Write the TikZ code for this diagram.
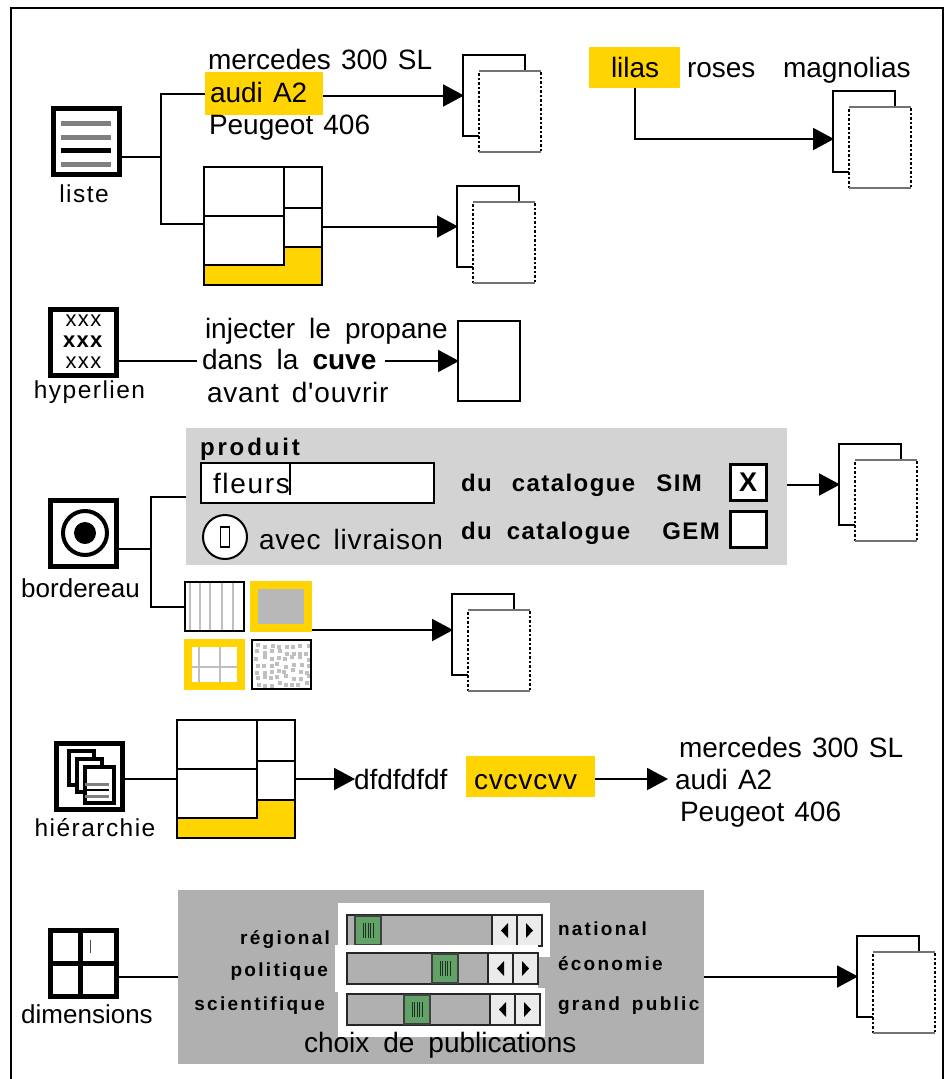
\documentclass[tikz,border=0pt]{standalone}
\usepackage{fontspec}
\setmainfont[WordSpace=1.8]{Liberation Sans}
\newfontfamily\carfamily[WordSpace=1.3]{Liberation Sans}
\newfontfamily\spreadfamily[LetterSpace=3,WordSpace=1.5]{Liberation Sans}
\newfontfamily\lblfamily[LetterSpace=6]{Liberation Sans}
\newfontfamily\catfamily[LetterSpace=6]{Liberation Sans}
\newfontfamily\tagfamily[LetterSpace=12,WordSpace=1.6]{Liberation Sans}
\usepackage{xcolor}
\usetikzlibrary{arrows.meta, positioning}
\definecolor{hilite}{HTML}{FFD400}
\definecolor{formpanel}{HTML}{D3D3D3}
\definecolor{dimpanelgray}{HTML}{B0B0B0}
\definecolor{thumbgreen}{HTML}{62A268}
\newcommand{\bigfont}{\fontsize{28}{32}\selectfont}
\newcommand{\carfont}{\carfamily\fontsize{28}{32}\selectfont}
\newcommand{\spreadfont}{\spreadfamily\fontsize{28}{32}\selectfont}
\newcommand{\lblfont}{\lblfamily\fontsize{24.5}{28}\selectfont}
\newcommand{\lblplainfont}{\fontsize{26}{30}\selectfont}
\newcommand{\catfont}{\catfamily\bfseries\fontsize{24}{28}\selectfont}
\newcommand{\tagfont}{\tagfamily\bfseries\fontsize{19}{22}\selectfont}

\begin{document}
\begin{tikzpicture}[
    x=1pt, y=-1pt,
    every node/.style={outer sep=0pt},
    node distance=6pt,
    conn/.style={line width=2pt},
    arrow/.style={-{Triangle[length=21pt, width=22pt]}, line width=2pt, shorten >=-1pt},
    txt/.style={anchor=base west, inner sep=0pt, font=\bigfont},
    cartxt/.style={anchor=base west, inner sep=0pt, font=\carfont},
    spreadtxt/.style={anchor=base west, inner sep=0pt, font=\spreadfont},
    hibox/.style={fill=hilite, anchor=north west, inner sep=0pt},
    iconbox/.style={draw, line width=5pt, minimum size=66pt, inner sep=0pt, fill=white},
    lbl/.style={inner sep=0pt, font=\lblfont},
    lblplain/.style={inner sep=0pt, font=\lblplainfont},
    backpage/.style={draw, line width=2.5pt, anchor=north west, minimum width=62pt, minimum height=81pt, inner sep=0pt},
    frontpage/.style={draw, fill=white, line width=2.5pt, dash pattern=on 2.5pt off 2pt, anchor=north west,
                      minimum width=62pt, minimum height=81pt, inner sep=0pt},
    pageedge/.style={line width=2pt, draw=black!55},
    mapbox/.style={draw, fill=hilite, line width=2pt, anchor=north west, minimum width=118pt, minimum height=118pt, inner sep=0pt},
    mapcell/.style={draw, fill=white, line width=2pt, anchor=north west, inner sep=0pt},
    swatch/.style={draw, line width=2.5pt, anchor=north west, minimum width=59pt, minimum height=49pt, inner sep=0pt},
    ring/.style={draw=hilite, line width=8pt, anchor=north west, minimum width=54pt, minimum height=43pt, inner sep=0pt},
    faint/.style={line width=2pt, draw=black!25},
    checkbox/.style={draw, line width=3pt, fill=white, minimum size=36pt, inner sep=0pt},
    bar/.style={draw=black!85, line width=2pt, fill=dimpanelgray},
    thumb/.style={draw=black!75, line width=1.5pt, fill=thumbgreen},
    btn/.style={draw=black!85, line width=1.5pt, fill=black!8}
]
  \fill[white] (0,0) rectangle (946,1079);
  \useasboundingbox (0,0) rectangle (946,1079);
  \draw[line width=2.5pt] (11,1079) -- (11,8) -- (943,8) -- (943,1079);

  \foreach \nm/\x/\y in {liste/463/55, cartes/457/186, lilas/833/91, form/839/444, swatches/452/594, dims/857/936} {
    \node[backpage] (\nm back) at (\x,\y) {};
    \node[frontpage] (\nm front) at (\x+16,\y+16) {};
    \draw[pageedge] (\nm front.north west) -- (\nm front.north east);
    \draw[pageedge] (\nm front.south west) -- (\nm front.south east);
  }

  \foreach \nm/\x/\y in {listemap/204/167, hiermap/177/720} {
    \node[mapbox] (\nm) at (\x,\y) {};
    \node[mapcell, minimum width=80pt, minimum height=49pt] (\nm a) at (\x,\y) {};
    \node[mapcell, minimum width=80pt, minimum height=49pt] (\nm b) at (\x,\y+49) {};
    \node[mapcell, minimum width=38pt, minimum height=41pt] (\nm c) at (\x+80,\y) {};
    \node[mapcell, minimum width=38pt, minimum height=39pt] (\nm d) at (\x+80,\y+41) {};
  }

  \node[iconbox] (listeicon) at (86.5,141) {};
  \foreach \yy/\cc in {123/black!50, 137/black!50, 150/black, 164/black!50} {
    \draw[line width=5pt, \cc] (61,\yy) -- (111,\yy);
  }
  \node[lbl, below=11pt of listeicon, xshift=-2.5pt] (listelabel) {liste};
  \node[cartxt] (merc) at (208,69) {mercedes 300 SL};
  \node[hibox, minimum width=118pt, minimum height=43pt] (audibox) at (205,72) {};
  \node[cartxt] (audi) at (210,102) {audi A2};
  \node[cartxt] (peug) at (209,134) {Peugeot 406};
  \coordinate (listejoin) at (161,157);
  \coordinate (listebot) at (161,224);
  \draw[conn] (listeicon.east |- listejoin) -- (listejoin);
  \draw[conn] (audibox.west) -| (listebot) -- (listebot -| listemap.west);
  \draw[arrow] (audibox.east |- listeback.west) -- (listeback.west);
  \draw[arrow] (listemap.east |- cartesback.west) -- (cartesback.west);

  \node[hibox, minimum width=91pt, minimum height=41pt] (lilasbox) at (589,47) {};
  \node[txt] (lilastext) at (611,77) {lilas};
  \node[txt] (roses) at (687,77) {roses};
  \node[txt] (magn) at (783,77) {magnolias};
  \coordinate (lilastip) at (833,139);
  \draw[arrow] (lilasbox.south) |- (lilastip);

  \node[iconbox, font=\lblfamily\fontsize{22}{21}\selectfont, align=center] (hypericon) at (83.5,342) {xxx\\\textbf{xxx}\\xxx};
  \node[lbl, below=6pt of hypericon, xshift=6pt] (hyperlabel) {hyperlien};
  \node[txt] (inject) at (205,338) {injecter le propane};
  \node[txt] (dans) at (202,369) {dans la \textbf{cuve}};
  \node[spreadtxt] (avant) at (207,402) {avant d'ouvrir};
  \node[draw, line width=2.5pt, minimum width=62pt, minimum height=80pt, inner sep=0pt, anchor=north west] (hyperpage) at (458,321) {};
  \draw[conn] (hyperpage.west -| hypericon.east) -- ([xshift=-5pt]hyperpage.west -| dans.west);
  \draw[arrow] ([xshift=9pt]hyperpage.west -| dans.east) -- (hyperpage.west);

  \node[fill=formpanel, anchor=north west, minimum width=601pt, minimum height=137pt, inner sep=0pt] (bordpanel) at (186,428) {};
  \node[txt, font=\tagfamily\bfseries\fontsize{24}{28}\selectfont] (produit) at (200,455) {produit};
  \node[draw, fill=white, line width=2.5pt, anchor=north west, minimum width=233pt, minimum height=40pt, inner sep=0pt] (fleursfield) at (201,463) {};
  \node[txt, font=\lblfamily\fontsize{28}{32}\selectfont] (fleurs) at (213,493) {fleurs};
  \draw[line width=1.5pt] (fleursfield.north west -| fleurs.east) -- ([yshift=8pt]fleursfield.south west -| fleurs.east);
  \node[draw, fill=white, circle, line width=2pt, minimum size=44pt, inner sep=0pt] (radio) at (225,537) {};
  \node[draw, line width=1.5pt, minimum width=9pt, minimum height=20pt, inner sep=0pt] (radiomark) at (radio) {};
  \node[spreadtxt] (livraison) at (259,549) {avec livraison};
  \node[txt, font=\catfont] (catsim) at (461,491) {du\hspace{20pt}catalogue\hspace{21pt}SIM};
  \node[txt, font=\catfont] (catgem) at (461,539) {du\hspace{15pt}catalogue\hspace{32pt}GEM};
  \node[checkbox, font=\bfseries\fontsize{27}{32}\selectfont] (boxsim) at (748,482) {X};
  \node[checkbox] (boxgem) at (748,529) {};

  \foreach \xx in {190,200,210,222,233} {
    \draw[faint] (\xx,582) -- (\xx,630);
  }
  \node[swatch] (swatcha) at (185,582) {};
  \node[ring, fill=black!28] (swatchb) at (254,585) {};
  \foreach \xx in {199,220} {
    \draw[faint] (\xx,640) -- (\xx,689);
  }
  \draw[faint] (185,667) -- (245,667);
  \node[ring, minimum width=53pt] (swatchc) at (188,643) {};
  \pgfmathsetseed{11}
  \foreach \i in {0,...,7} {
    \foreach \j in {0,...,6} {
      \fill[black!25] ({255+7.2*\i+1.8*rand},{644+6.4*\j+1.8*rand}) rectangle +(4,4);
    }
  }
  \node[swatch] (swatchd) at (252,640) {};

  \node[iconbox] (bordicon) at (83.5,533.5) {};
  \node[draw, circle, line width=4pt, minimum size=44pt, inner sep=0pt] (bordring) at (85,533) {};
  \node[fill, circle, minimum size=22pt, inner sep=0pt] (bordspot) at (bordring) {};
  \node[lblplain, below=12pt of bordicon, xshift=-3pt] (bordlabel) {bordereau};
  \coordinate (bordjoin) at (151,549);
  \coordinate (swatchtip) at (452,630);
  \draw[conn] (bordjoin -| bordicon.east) -- (bordjoin);
  \draw[conn] (bordpanel.west) -| (bordjoin) |- (swatcha.west);
  \draw[arrow] (bordpanel.east |- formback.west) -- (formback.west);
  \draw[arrow] ([xshift=4pt]swatchtip -| swatchb.east) -- (swatchtip);

  \node[iconbox] (hiericon) at (89,776.5) {};
  \foreach \dx/\dy/\dw/\dh in {69/751/25/34, 77/759/25/33, 85/767/29/36} {
    \draw[line width=4pt, fill=white] (\dx,\dy) rectangle +(\dw,\dh);
  }
  \draw[line width=3pt, black!50] (85,784) -- (109,784);
  \draw[line width=2.5pt] (85,790) -- (109,790);
  \draw[line width=3pt, black!50] (85,796) -- (109,796);
  \node[lbl, below=9pt of hiericon, xshift=6pt] (hierlabel) {hiérarchie};
  \node[txt] (dfdf) at (354,789) {dfdfdfdf};
  \node[hibox, minimum width=129pt, minimum height=41pt] (cvbox) at (466,756) {};
  \node[spreadtxt] (cvtext) at (474,789) {cvcvcvv};
  \node[cartxt] (merctwo) at (679,757) {mercedes 300 SL};
  \node[cartxt, inner xsep=8pt] (auditwo) at (667,789) {audi A2};
  \node[cartxt] (peugtwo) at (680,821) {Peugeot 406};
  \draw[conn] (hiermap.west -| hiericon.east) -- (hiermap.west);
  \draw[arrow] (hiermap.east) -- (hiermap.east -| dfdf.west);
  \draw[arrow] (cvbox.east |- hiermap.east) -- (hiermap.east -| auditwo.west);

  \node[fill=dimpanelgray, anchor=north west, minimum width=526pt, minimum height=174pt, inner sep=0pt] (dimpanel) at (178,890) {};
  \foreach \wl/\wt/\wr/\wb/\t/\r/\tx in {338/903/550/957/915/542/355, 335/945/538/992/953/538/432, 338/988/545/1037/994/540/404} {
    \fill[white] (\wl,\wt) rectangle (\wr,\wb);
    \draw[bar] (347,\t) rectangle (\r,\t+31);
    \draw[thumb] (\tx,\t+1) rectangle (\tx+26,\t+30);
    \foreach \k in {0,...,4} {
      \draw[line width=0.8pt, black!70!thumbgreen] (\tx+8+\k*2.5,\t+8) -- (\tx+8+\k*2.5,\t+23);
    }
    \draw[btn] (\r-50,\t) rectangle (\r-25,\t+31);
    \draw[btn] (\r-25,\t) rectangle (\r,\t+31);
    \fill (\r-34,\t+8) -- (\r-41,\t+15.5) -- (\r-34,\t+23) -- cycle;
    \fill (\r-16,\t+8) -- (\r-9,\t+15.5) -- (\r-16,\t+23) -- cycle;
  }
  \node[txt, anchor=base east, font=\tagfont] (regional) at (330,944) {régional};
  \node[txt, anchor=base east, font=\tagfont] (politique) at (328,976) {politique};
  \node[txt, anchor=base east, font=\tagfont] (scient) at (325,1010) {scientifique};
  \node[txt, font=\tagfont] (national) at (558,935) {national};
  \node[txt, font=\tagfont] (economie) at (558,970) {économie};
  \node[txt, font=\tagfont] (grand) at (558,1010) {grand public};
  \node[txt] (choix) at (304,1052) {choix de publications};

  \node[iconbox] (dimicon) at (83.5,963) {};
  \draw[line width=5pt] (dimicon.north) ++(-3.5,0) -- ++(0,66);
  \draw[line width=5pt] (dimicon.west) -- ++(64,0);
  \draw[line width=1pt, black!70] (90,940) -- (90,953);
  \node[lblplain, below=9pt of dimicon, xshift=3.5pt] (dimlabel) {dimensions};
  \draw[conn] (dimpanel.west -| dimicon.east) -- (dimpanel.west);
  \draw[arrow] (dimpanel.east |- dimsback.west) -- (dimsback.west);
\end{tikzpicture}
\end{document}
